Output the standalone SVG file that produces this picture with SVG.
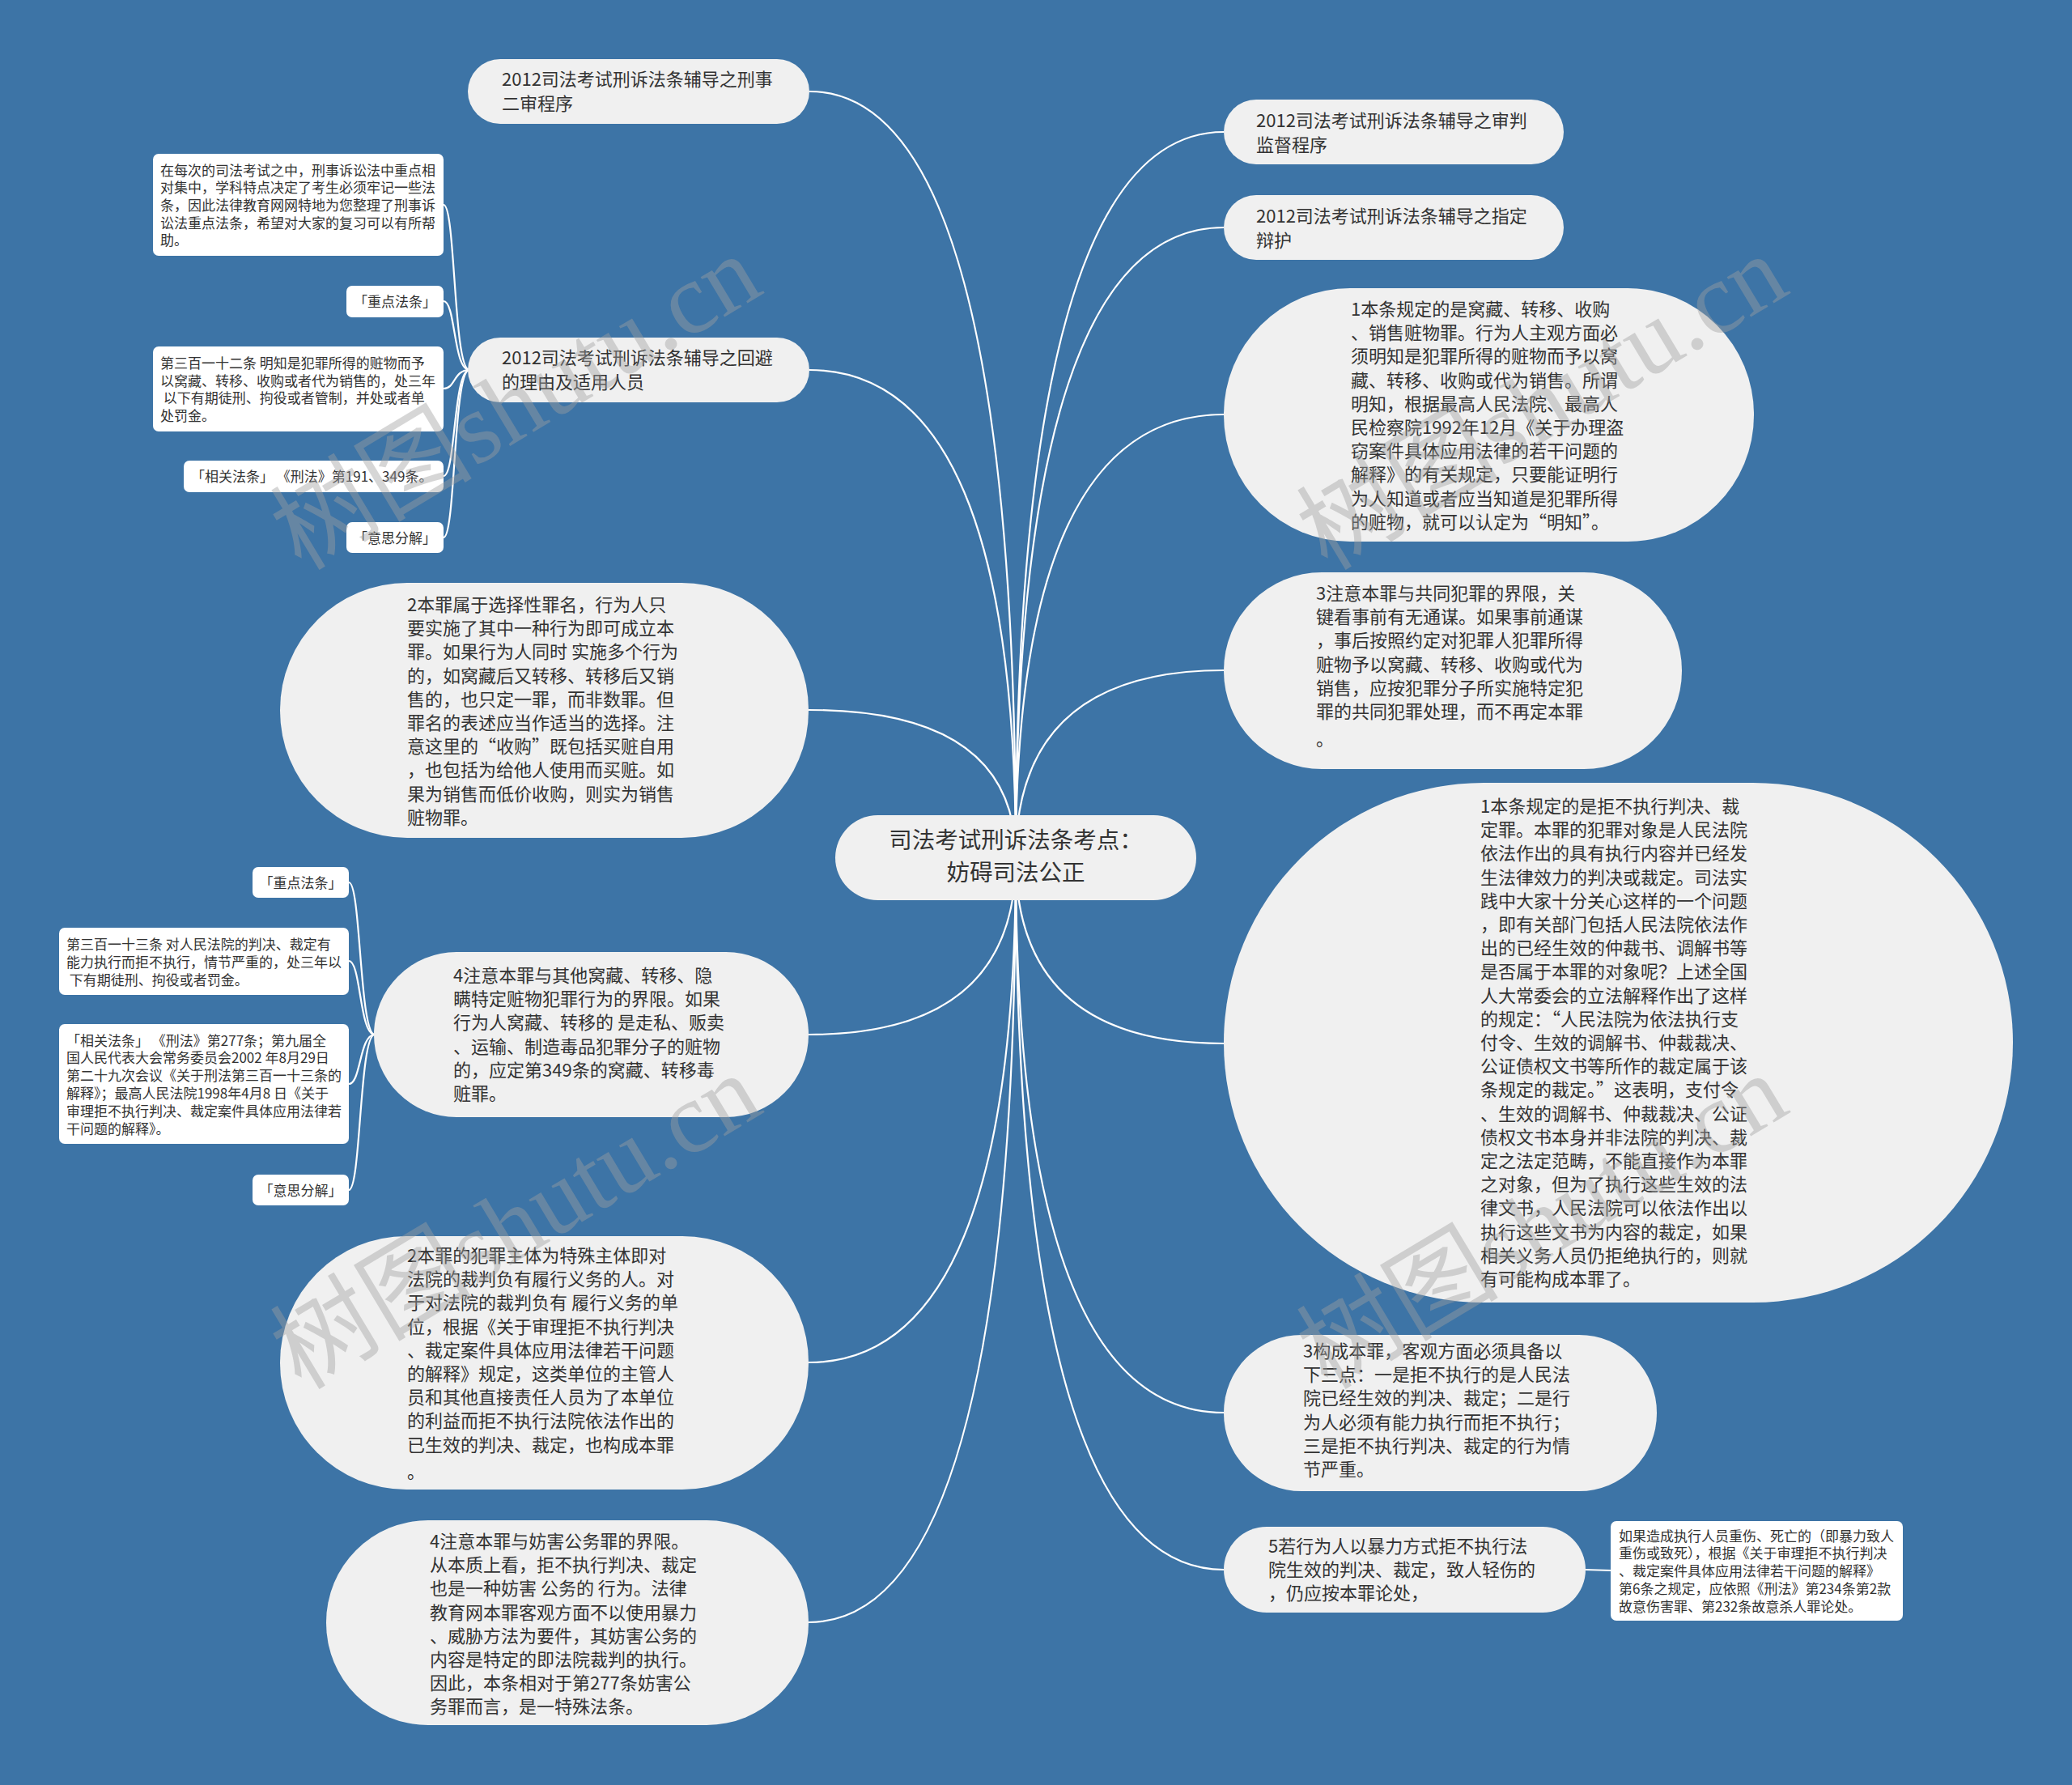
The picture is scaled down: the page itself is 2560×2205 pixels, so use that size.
<svg xmlns="http://www.w3.org/2000/svg" width="2560" height="2205" viewBox="0 0 2560 2205">
<style>
.bg{fill:#3d74a6}
.link{fill:none;stroke:#ffffff;stroke-width:2.2}
.n rect{fill:#f0f0f0}
.n text{font-family:"Noto Sans CJK SC","Microsoft YaHei",sans-serif;font-size:22px;fill:#333333}
.leaf rect{fill:#ffffff}
.leaf text{font-family:"Noto Sans CJK SC","Microsoft YaHei",sans-serif;font-size:17px;fill:#333333}
.leaf text.c{text-anchor:middle}
.root rect{fill:#f0f0f0}
.root text{font-family:"Noto Sans CJK SC","Microsoft YaHei",sans-serif;font-size:28.5px;fill:#333333;text-anchor:middle}
.wm{font-family:"Liberation Serif","Noto Sans CJK SC",serif;font-size:125px;fill:#a0a0a0;opacity:0.42}
</style>
<rect class="bg" x="0" y="0" width="2560" height="2205"/>

<g id="connectors">
  <path class="link" d="M1255,1060 Q1255,113 1000,113"/>
  <path class="link" d="M1255,1060 Q1255,457 1000,457"/>
  <path class="link" d="M1255,1060 Q1255,877 999,877"/>
  <path class="link" d="M1255,1060 Q1255,1278 999,1278"/>
  <path class="link" d="M1255,1060 Q1255,1683 999,1683"/>
  <path class="link" d="M1255,1060 Q1255,2004 999,2004"/>
  <path class="link" d="M1255,1060 Q1255,163 1512,163"/>
  <path class="link" d="M1255,1060 Q1255,281 1512,281"/>
  <path class="link" d="M1255,1060 Q1255,512 1512,512"/>
  <path class="link" d="M1255,1060 Q1255,828 1512,828"/>
  <path class="link" d="M1255,1060 Q1255,1289 1512,1289"/>
  <path class="link" d="M1255,1060 Q1255,1745 1512,1745"/>
  <path class="link" d="M1255,1060 Q1255,1939 1512,1939"/>
  <path class="link" d="M580,457 C560,457 563,253 548,253"/>
  <path class="link" d="M580,457 C560,457 563,372 548,372"/>
  <path class="link" d="M580,457 C560,457 563,480 548,480"/>
  <path class="link" d="M580,457 C560,457 563,588 548,588"/>
  <path class="link" d="M580,457 C560,457 563,664 548,664"/>
  <path class="link" d="M463,1278 C444,1278 446,1090 431,1090"/>
  <path class="link" d="M463,1278 C444,1278 446,1187 431,1187"/>
  <path class="link" d="M463,1278 C444,1278 446,1339 431,1339"/>
  <path class="link" d="M463,1278 C444,1278 446,1470 431,1470"/>
  <path class="link" d="M1958,1939 L1991,1940"/>
</g>

<g id="root" class="root">
  <rect x="1032" y="1007" width="446" height="105" rx="52.5"/>
  <text x="1255" y="1048">司法考试刑诉法条考点：</text>
  <text x="1255" y="1088">妨碍司法公正</text>
</g>

<g id="L1" class="n">
  <rect x="578" y="73" width="422" height="80" rx="40"/>
  <text><tspan x="620" y="106">2012司法考试刑诉法条辅导之刑事</tspan><tspan x="620" y="136">二审程序</tspan></text>
</g>

<g id="L2" class="n">
  <rect x="578" y="417" width="422" height="80" rx="40"/>
  <text><tspan x="620" y="450">2012司法考试刑诉法条辅导之回避</tspan><tspan x="620" y="480">的理由及适用人员</tspan></text>
</g>

<g id="L2a" class="leaf">
  <rect x="189" y="190" width="359" height="126" rx="7"/>
  <text><tspan x="198" y="216.5">在每次的司法考试之中，刑事诉讼法中重点相</tspan><tspan x="198" y="238.2">对集中，学科特点决定了考生必须牢记一些法</tspan><tspan x="198" y="259.8">条，因此法律教育网网特地为您整理了刑事诉</tspan><tspan x="198" y="281.5">讼法重点法条，希望对大家的复习可以有所帮</tspan><tspan x="198" y="303.2">助。</tspan></text>
</g>
<g id="L2b" class="leaf">
  <rect x="428" y="353" width="120" height="39" rx="7"/>
  <text class="c" x="488" y="379">「重点法条」</text>
</g>
<g id="L2c" class="leaf">
  <rect x="189" y="428" width="359" height="105" rx="7"/>
  <text><tspan x="198" y="454.8">第三百一十二条 明知是犯罪所得的赃物而予</tspan><tspan x="198" y="476.5">以窝藏、转移、收购或者代为销售的，处三年</tspan><tspan x="198" y="498.2">&#160;以下有期徒刑、拘役或者管制，并处或者单</tspan><tspan x="198" y="519.8">处罚金。</tspan></text>
</g>
<g id="L2d" class="leaf">
  <rect x="227" y="569" width="321" height="39" rx="7"/>
  <text x="236" y="595">「相关法条」 《刑法》第191、349条。</text>
</g>
<g id="L2e" class="leaf">
  <rect x="428" y="645" width="120" height="38" rx="7"/>
  <text class="c" x="488" y="670.5">「意思分解」</text>
</g>

<g id="L3" class="n">
  <rect x="346" y="720" width="653" height="315" rx="157"/>
  <text><tspan x="503" y="755">2本罪属于选择性罪名，行为人只</tspan><tspan x="503" y="784.2">要实施了其中一种行为即可成立本</tspan><tspan x="503" y="813.4">罪。如果行为人同时 实施多个行为</tspan><tspan x="503" y="842.6">的，如窝藏后又转移、转移后又销</tspan><tspan x="503" y="871.8">售的，也只定一罪，而非数罪。但</tspan><tspan x="503" y="901">罪名的表述应当作适当的选择。注</tspan><tspan x="503" y="930.2">意这里的“收购”既包括买赃自用</tspan><tspan x="503" y="959.4">，也包括为给他人使用而买赃。如</tspan><tspan x="503" y="988.6">果为销售而低价收购，则实为销售</tspan><tspan x="503" y="1017.8">赃物罪。</tspan></text>
</g>

<g id="L4" class="n">
  <rect x="462" y="1176" width="537" height="204" rx="102"/>
  <text><tspan x="560" y="1213">4注意本罪与其他窝藏、转移、隐</tspan><tspan x="560" y="1242.2">瞒特定赃物犯罪行为的界限。如果</tspan><tspan x="560" y="1271.4">行为人窝藏、转移的 是走私、贩卖</tspan><tspan x="560" y="1300.6">、运输、制造毒品犯罪分子的赃物</tspan><tspan x="560" y="1329.8">的，应定第349条的窝藏、转移毒</tspan><tspan x="560" y="1359">赃罪。</tspan></text>
</g>

<g id="L4a" class="leaf">
  <rect x="312" y="1071" width="119" height="38" rx="7"/>
  <text class="c" x="371.5" y="1096.5">「重点法条」</text>
</g>
<g id="L4b" class="leaf">
  <rect x="73" y="1146" width="358" height="83" rx="7"/>
  <text><tspan x="82" y="1172.5">第三百一十三条 对人民法院的判决、裁定有</tspan><tspan x="82" y="1194.8">能力执行而拒不执行，情节严重的，处三年以</tspan><tspan x="82" y="1216.5">&#160;下有期徒刑、拘役或者罚金。</tspan></text>
</g>
<g id="L4c" class="leaf">
  <rect x="73" y="1265" width="358" height="148" rx="7"/>
  <text><tspan x="82" y="1291.5">「相关法条」 《刑法》第277条；第九届全</tspan><tspan x="82" y="1313.4">国人民代表大会常务委员会2002 年8月29日</tspan><tspan x="82" y="1335.3">第二十九次会议《关于刑法第三百一十三条的</tspan><tspan x="82" y="1357.2">解释》；最高人民法院1998年4月8 日《关于</tspan><tspan x="82" y="1379.1">审理拒不执行判决、裁定案件具体应用法律若</tspan><tspan x="82" y="1401">干问题的解释》。</tspan></text>
</g>
<g id="L4d" class="leaf">
  <rect x="312" y="1451" width="119" height="38" rx="7"/>
  <text class="c" x="371.5" y="1476.5">「意思分解」</text>
</g>

<g id="L5" class="n">
  <rect x="346" y="1527" width="653" height="313" rx="156"/>
  <text><tspan x="503" y="1559">2本罪的犯罪主体为特殊主体即对</tspan><tspan x="503" y="1588.2">法院的裁判负有履行义务的人。对</tspan><tspan x="503" y="1617.4">于对法院的裁判负有 履行义务的单</tspan><tspan x="503" y="1646.6">位，根据《关于审理拒不执行判决</tspan><tspan x="503" y="1675.8">、裁定案件具体应用法律若干问题</tspan><tspan x="503" y="1705">的解释》规定，这类单位的主管人</tspan><tspan x="503" y="1734.2">员和其他直接责任人员为了本单位</tspan><tspan x="503" y="1763.4">的利益而拒不执行法院依法作出的</tspan><tspan x="503" y="1792.6">已生效的判决、裁定，也构成本罪</tspan><tspan x="503" y="1826">。</tspan></text>
</g>

<g id="L6" class="n">
  <rect x="403" y="1878" width="596" height="253" rx="126"/>
  <text><tspan x="531" y="1912">4注意本罪与妨害公务罪的界限。</tspan><tspan x="531" y="1941.2">从本质上看，拒不执行判决、裁定</tspan><tspan x="531" y="1970.4">也是一种妨害 公务的 行为。法律</tspan><tspan x="531" y="1999.6">教育网本罪客观方面不以使用暴力</tspan><tspan x="531" y="2028.8">、威胁方法为要件，其妨害公务的</tspan><tspan x="531" y="2058">内容是特定的即法院裁判的执行。</tspan><tspan x="531" y="2087.2">因此，本条相对于第277条妨害公</tspan><tspan x="531" y="2116.4">务罪而言，是一特殊法条。</tspan></text>
</g>

<g id="R1" class="n">
  <rect x="1512" y="123" width="420" height="80" rx="40"/>
  <text><tspan x="1552" y="157">2012司法考试刑诉法条辅导之审判</tspan><tspan x="1552" y="187">监督程序</tspan></text>
</g>

<g id="R2" class="n">
  <rect x="1512" y="241" width="420" height="80" rx="40"/>
  <text><tspan x="1552" y="275">2012司法考试刑诉法条辅导之指定</tspan><tspan x="1552" y="305">辩护</tspan></text>
</g>

<g id="R3" class="n">
  <rect x="1512" y="356" width="655" height="313" rx="156"/>
  <text><tspan x="1669" y="390">1本条规定的是窝藏、转移、收购</tspan><tspan x="1669" y="419.2">、销售赃物罪。行为人主观方面必</tspan><tspan x="1669" y="448.4">须明知是犯罪所得的赃物而予以窝</tspan><tspan x="1669" y="477.6">藏、转移、收购或代为销售。所谓</tspan><tspan x="1669" y="506.8">明知，根据最高人民法院、最高人</tspan><tspan x="1669" y="536">民检察院1992年12月《关于办理盗</tspan><tspan x="1669" y="565.2">窃案件具体应用法律的若干问题的</tspan><tspan x="1669" y="594.4">解释》的有关规定，只要能证明行</tspan><tspan x="1669" y="623.6">为人知道或者应当知道是犯罪所得</tspan><tspan x="1669" y="652.8">的赃物，就可以认定为“明知”。</tspan></text>
</g>

<g id="R4" class="n">
  <rect x="1512" y="707" width="566" height="243" rx="121"/>
  <text><tspan x="1626" y="741">3注意本罪与共同犯罪的界限，关</tspan><tspan x="1626" y="770.2">键看事前有无通谋。如果事前通谋</tspan><tspan x="1626" y="799.4">，事后按照约定对犯罪人犯罪所得</tspan><tspan x="1626" y="828.6">赃物予以窝藏、转移、收购或代为</tspan><tspan x="1626" y="857.8">销售，应按犯罪分子所实施特定犯</tspan><tspan x="1626" y="887">罪的共同犯罪处理，而不再定本罪</tspan><tspan x="1626" y="921">。</tspan></text>
</g>

<g id="R5" class="n">
  <rect x="1512" y="967" width="975" height="642" rx="321"/>
  <text><tspan x="1829" y="1004">1本条规定的是拒不执行判决、裁</tspan><tspan x="1829" y="1033.2">定罪。本罪的犯罪对象是人民法院</tspan><tspan x="1829" y="1062.4">依法作出的具有执行内容并已经发</tspan><tspan x="1829" y="1091.6">生法律效力的判决或裁定。司法实</tspan><tspan x="1829" y="1120.8">践中大家十分关心这样的一个问题</tspan><tspan x="1829" y="1150">，即有关部门包括人民法院依法作</tspan><tspan x="1829" y="1179.2">出的已经生效的仲裁书、调解书等</tspan><tspan x="1829" y="1208.4">是否属于本罪的对象呢？上述全国</tspan><tspan x="1829" y="1237.6">人大常委会的立法解释作出了这样</tspan><tspan x="1829" y="1266.8">的规定：“人民法院为依法执行支</tspan><tspan x="1829" y="1296">付令、生效的调解书、仲裁裁决、</tspan><tspan x="1829" y="1325.2">公证债权文书等所作的裁定属于该</tspan><tspan x="1829" y="1354.4">条规定的裁定。”这表明，支付令</tspan><tspan x="1829" y="1383.6">、生效的调解书、仲裁裁决、公证</tspan><tspan x="1829" y="1412.8">债权文书本身并非法院的判决、裁</tspan><tspan x="1829" y="1442">定之法定范畴，不能直接作为本罪</tspan><tspan x="1829" y="1471.2">之对象，但为了执行这些生效的法</tspan><tspan x="1829" y="1500.4">律文书，人民法院可以依法作出以</tspan><tspan x="1829" y="1529.6">执行这些文书为内容的裁定，如果</tspan><tspan x="1829" y="1558.8">相关义务人员仍拒绝执行的，则就</tspan><tspan x="1829" y="1588">有可能构成本罪了。</tspan></text>
</g>

<g id="R6" class="n">
  <rect x="1512" y="1649" width="535" height="193" rx="96"/>
  <text><tspan x="1610" y="1677">3构成本罪，客观方面必须具备以</tspan><tspan x="1610" y="1706.2">下三点：一是拒不执行的是人民法</tspan><tspan x="1610" y="1735.4">院已经生效的判决、裁定；二是行</tspan><tspan x="1610" y="1764.6">为人必须有能力执行而拒不执行；</tspan><tspan x="1610" y="1793.8">三是拒不执行判决、裁定的行为情</tspan><tspan x="1610" y="1823">节严重。</tspan></text>
</g>

<g id="R7" class="n">
  <rect x="1512" y="1886" width="447" height="106" rx="53"/>
  <text><tspan x="1567" y="1918">5若行为人以暴力方式拒不执行法</tspan><tspan x="1567" y="1947.2">院生效的判决、裁定，致人轻伤的</tspan><tspan x="1567" y="1976.4">，仍应按本罪论处，</tspan></text>
</g>

<g id="R7a" class="leaf">
  <rect x="1990" y="1879" width="361" height="123" rx="7"/>
  <text><tspan x="2000" y="1903.5">如果造成执行人员重伤、死亡的（即暴力致人</tspan><tspan x="2000" y="1925.3">重伤或致死），根据《关于审理拒不执行判决</tspan><tspan x="2000" y="1947.1">、裁定案件具体应用法律若干问题的解释》</tspan><tspan x="2000" y="1968.9">第6条之规定，应依照《刑法》第234条第2款</tspan><tspan x="2000" y="1990.7">故意伤害罪、第232条故意杀人罪论处。</tspan></text>
</g>

<g id="watermark">
  <text class="wm" transform="translate(372,706) rotate(-31)">树图shutu.cn</text>
  <text class="wm" transform="translate(1640,706) rotate(-31)">树图shutu.cn</text>
  <text class="wm" transform="translate(372,1718) rotate(-31)">树图shutu.cn</text>
  <text class="wm" transform="translate(1640,1718) rotate(-31)">树图shutu.cn</text>
</g>
</svg>
